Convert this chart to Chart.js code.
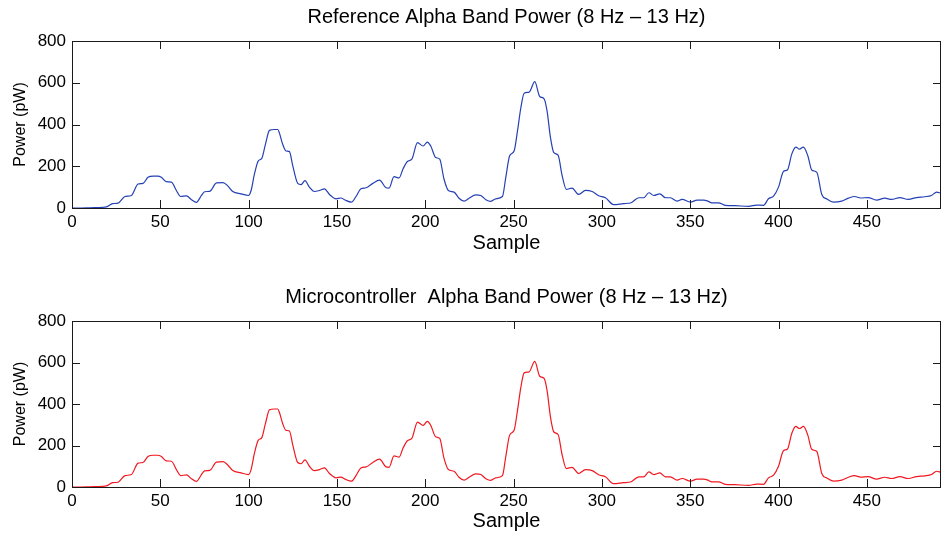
<!DOCTYPE html>
<html>
<head>
<meta charset="utf-8">
<script src="https://cdn.jsdelivr.net/npm/chart.js@4.4.1/dist/chart.umd.min.js"></script>
<style>
  html, body { margin: 0; padding: 0; background: #fff; }
  #wrap { position: relative; width: 941px; height: 533px; overflow: hidden; }
  canvas { position: absolute; left: 0; display: block; }
</style>
</head>
<body>
<div id="wrap">
  <canvas id="refChart" width="941" height="280" style="top:0"></canvas>
  <canvas id="mcuChart" width="941" height="253" style="top:280px"></canvas>
</div>
<script>
// sample positions
const samples = [0, 5, 10, 14, 19.5, 23, 26, 30, 33.6, 37.4, 40.2, 43, 46, 48.5, 50.6, 53.4, 56.3, 59.1, 61.5, 64.8,
  67.6, 70.4, 73.3, 75.1, 78, 81.8, 85.5, 88.3, 91, 95.7, 99.9, 101.4, 103.3, 105.5, 107.4, 109.5, 111.8, 114.6, 116.5, 117.4,
  119.3, 121.2, 123.1, 125, 127.8, 129.7, 131.9, 134.4, 137.2, 140.1, 142.9, 145.8, 149.5, 152.3, 154.6, 158.2, 160.8, 163.6, 166.5, 170.3,
  174.1, 177.8, 179.5, 182.3, 185.2, 187.4, 189.9, 192.4, 195.6, 198.8, 201.2, 203.1, 205.9, 208.2, 210.6, 213.1, 216.3, 219.1, 222, 224.8,
  228.6, 231.4, 234.3, 237.1, 239.9, 243.7, 245.6, 247.8, 250.3, 252.2, 254.1, 256, 258.8, 262, 264.8, 267.3, 269, 270.9, 272.8, 275.2,
  277.5, 279.9, 283.1, 286.9, 290.7, 294.5, 298.2, 302, 306.7, 312.4, 316.2, 320.9, 323.7, 326.6, 329.4, 332.8, 336, 338.8, 342.6, 345.4,
  350.2, 353.9, 357.7, 360, 362.2, 366, 369.8, 375.4, 383, 387.7, 391.5, 394.3, 397.2, 400, 402.8, 405.1, 407.5, 409.8, 411.9, 414.1,
  416.6, 418.8, 421.7, 424.5, 427.4, 431.1, 435.8, 439.6, 443, 446.5, 450.7, 455.5, 460.2, 464, 468.7, 473.4, 478.1, 482.8, 486.6, 489.5, 492];

// reference alpha band power (pW)
const refPower = [0, 0, 1, 2, 5, 21, 23, 55, 60, 115, 118, 147, 153, 153, 147, 126, 124, 84, 55, 58,
  40, 27, 60, 78, 80, 120, 122, 105, 79, 68, 60, 84, 163, 226, 237, 305, 372, 376, 376, 360,
  305, 273, 270, 202, 118, 112, 131, 100, 79, 84, 92, 65, 44, 48, 38, 28, 55, 92, 97, 118,
  134, 97, 95, 150, 144, 187, 223, 234, 313, 297, 316, 297, 242, 234, 139, 84, 76, 47, 33, 47,
  63, 60, 40, 32, 44, 55, 147, 250, 273, 368, 479, 550, 555, 605, 534, 523, 463, 337, 265, 253,
  155, 89, 95, 65, 84, 79, 59, 49, 16, 21, 24, 49, 49, 73, 60, 68, 49, 49, 33, 41,
  28, 38, 38, 33, 25, 25, 13, 11, 8, 14, 13, 44, 57, 100, 175, 183, 258, 292, 282, 292,
  250, 182, 171, 65, 43, 28, 33, 47, 55, 48, 50, 38, 47, 41, 50, 41, 50, 54, 60, 76, 71];

// microcontroller alpha band power (pW)
const mcuPower = [0, 0, 1, 2, 5, 21, 23, 55, 60, 115, 118, 147, 153, 153, 147, 126, 124, 84, 55, 58,
  40, 27, 60, 78, 80, 120, 122, 105, 79, 68, 60, 84, 163, 226, 237, 305, 372, 376, 376, 360,
  305, 273, 270, 202, 118, 112, 131, 100, 79, 84, 92, 65, 44, 48, 38, 28, 55, 92, 97, 118,
  134, 97, 95, 150, 144, 187, 223, 234, 313, 297, 316, 297, 242, 234, 139, 84, 76, 47, 33, 47,
  63, 60, 40, 32, 44, 55, 147, 250, 273, 368, 479, 550, 555, 605, 534, 523, 463, 337, 265, 253,
  155, 89, 95, 65, 84, 79, 59, 49, 16, 21, 24, 49, 49, 73, 60, 68, 49, 49, 33, 41,
  28, 38, 38, 33, 25, 25, 13, 11, 8, 14, 13, 44, 57, 100, 175, 183, 258, 292, 282, 292,
  250, 182, 171, 65, 43, 28, 33, 47, 55, 48, 50, 38, 47, 41, 50, 41, 50, 54, 60, 76, 71];

const xTicks = [0, 50, 100, 150, 200, 250, 300, 350, 400, 450];
const yTicks = [0, 200, 400, 600, 800];

const FONT = "'Liberation Sans', Arial, Helvetica, sans-serif";

// matlab style box with inward ticks on all four sides
const boxTicks = {
  id: 'boxTicks',
  afterDraw(chart) {
    const { ctx, chartArea: a, scales: { x, y } } = chart;
    const len = 8;
    ctx.save();
    ctx.strokeStyle = '#1a1a1a';
    ctx.lineWidth = 1;
    ctx.beginPath();
    ctx.moveTo(a.left + 0.5, a.bottom + 0.5);
    ctx.lineTo(a.left + 0.5, a.top + 0.5);
    ctx.lineTo(a.right - 0.5, a.top + 0.5);
    ctx.lineTo(a.right - 0.5, a.bottom + 0.5);
    ctx.closePath();
    x.ticks.forEach(t => {
      const px = Math.round(x.getPixelForValue(t.value)) + 0.5;
      ctx.moveTo(px, a.bottom); ctx.lineTo(px, a.bottom - len);
      ctx.moveTo(px, a.top); ctx.lineTo(px, a.top + len);
    });
    y.ticks.forEach(t => {
      const py = Math.round(y.getPixelForValue(t.value)) + 0.5;
      ctx.moveTo(a.left, py); ctx.lineTo(a.left + len, py);
      ctx.moveTo(a.right, py); ctx.lineTo(a.right - len, py);
    });
    ctx.stroke();
    ctx.restore();
  }
};

function makeChart(id, title, values, color, xHeight, xTitlePad) {
  return new Chart(document.getElementById(id), {
    type: 'line',
    data: {
      datasets: [{
        data: samples.map((s, i) => ({ x: s, y: values[i] })),
        borderColor: color,
        borderWidth: 1.2,
        pointRadius: 0,
        cubicInterpolationMode: 'monotone',
        fill: false
      }]
    },
    options: {
      responsive: false,
      animation: false,
      events: [],
      layout: { padding: { left: 0, right: 0, top: 0, bottom: 0 } },
      plugins: {
        legend: { display: false },
        tooltip: { enabled: false },
        title: {
          display: true,
          fullSize: false,
          text: title,
          color: '#000',
          font: { family: FONT, size: 20, weight: 'normal' },
          padding: { top: 5, bottom: 12 }
        }
      },
      scales: {
        x: {
          type: 'linear',
          min: 0,
          max: 492,
          afterBuildTicks: s => { s.ticks = xTicks.map(v => ({ value: v })); },
          afterFit: s => { s.height = xHeight; },
          grid: { display: false, drawTicks: false },
          border: { display: false },
          ticks: { color: '#000', padding: 4, font: { family: FONT, size: 17 } },
          title: {
            display: true,
            text: 'Sample',
            color: '#000',
            font: { family: FONT, size: 20 },
            padding: { top: 0, bottom: xTitlePad }
          }
        },
        y: {
          min: 0,
          max: 800,
          afterBuildTicks: s => { s.ticks = yTicks.map(v => ({ value: v })); },
          afterFit: s => { s.width = 72; },
          grid: { display: false, drawTicks: false },
          border: { display: false },
          ticks: { color: '#000', padding: 6, font: { family: FONT, size: 17 } },
          title: {
            display: true,
            text: 'Power (pW)',
            color: '#000',
            font: { family: FONT, size: 16 },
            padding: { top: 11, bottom: 0 }
          }
        }
      }
    },
    plugins: [boxTicks]
  });
}

makeChart('refChart', 'Reference Alpha Band Power (8 Hz \u2013 13 Hz)', refPower, '#2440b4', 72, 25);
makeChart('mcuChart', 'Microcontroller  Alpha Band Power (8 Hz \u2013 13 Hz)', mcuPower, '#f01820', 46, 0);
</script>
</body>
</html>
